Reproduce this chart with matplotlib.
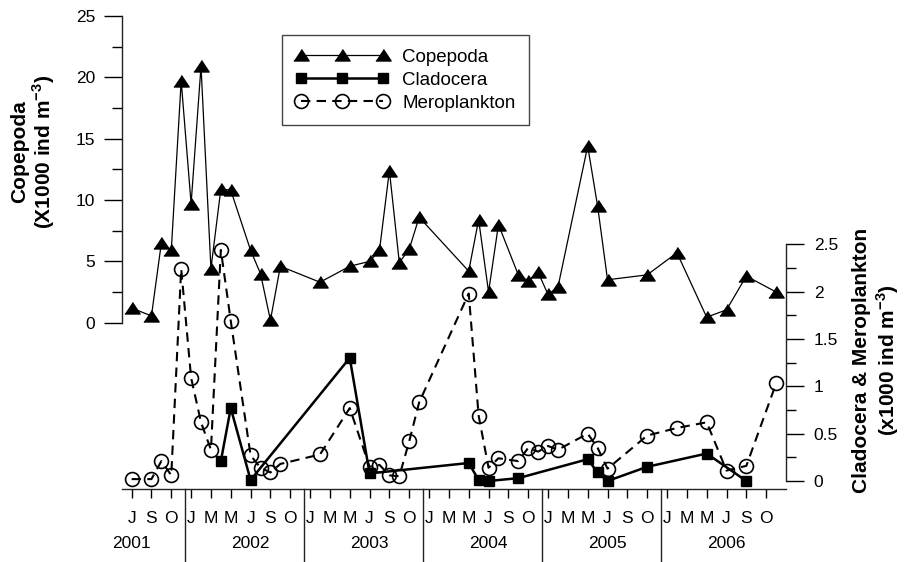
import matplotlib
matplotlib.use("Agg")
import matplotlib.pyplot as plt
import matplotlib.transforms as mtransforms
from matplotlib.ticker import FuncFormatter
import numpy as np

plt.rcParams['font.family'] = ['Liberation Sans', 'DejaVu Sans']
plt.rcParams['mathtext.fontset'] = 'custom'
plt.rcParams['mathtext.rm'] = 'Liberation Sans'
plt.rcParams['mathtext.bf'] = 'Liberation Sans:bold'

# sampling dates (year-month) and abundances (x1000 ind m-3)
cope_dates = ['2001-07', '2001-09', '2001-10', '2001-11', '2001-12', '2002-01', '2002-02',
              '2002-03', '2002-04', '2002-05', '2002-07', '2002-08', '2002-09', '2002-10',
              '2003-02', '2003-05', '2003-07', '2003-08', '2003-09', '2003-10', '2003-11',
              '2003-12', '2004-05', '2004-06', '2004-07', '2004-08', '2004-10', '2004-11',
              '2004-12', '2005-01', '2005-02', '2005-05', '2005-06', '2005-07', '2005-11',
              '2006-02', '2006-05', '2006-07', '2006-09', '2006-12']
cope_vals = [1.2, 0.55, 6.5, 5.9, 19.7, 9.7, 20.9,
             4.4, 10.9, 10.8, 5.9, 4.0, 0.2, 4.6,
             3.3, 4.6, 5.0, 5.9, 12.4, 4.9, 6.0,
             8.6, 4.2, 8.4, 2.5, 8.0, 3.9, 3.4,
             4.1, 2.3, 2.9, 14.4, 9.5, 3.5, 3.9,
             5.7, 0.45, 1.05, 3.8, 2.5]

clad_dates = ['2002-04', '2002-05', '2002-07', '2003-05', '2003-07', '2004-05', '2004-06',
              '2004-07', '2004-10', '2005-05', '2005-06', '2005-07', '2005-11', '2006-05',
              '2006-09']
clad_vals = [0.21, 0.77, 0.01, 1.30, 0.08, 0.19, 0.01,
             0.0, 0.03, 0.23, 0.09, 0.0, 0.15, 0.29,
             0.0]

mero_dates = cope_dates
mero_vals = [0.02, 0.02, 0.21, 0.06, 2.24, 1.09, 0.62,
             0.33, 2.44, 1.69, 0.27, 0.14, 0.09, 0.18,
             0.28, 0.77, 0.15, 0.17, 0.06, 0.05, 0.42,
             0.83, 1.98, 0.69, 0.14, 0.24, 0.21, 0.35,
             0.31, 0.37, 0.33, 0.50, 0.35, 0.13, 0.48,
             0.56, 0.62, 0.11, 0.16, 1.03]

month_labels = ['J', 'S', 'O'] + ['J', 'M', 'M', 'J', 'S', 'O'] * 5
years = [2001, 2002, 2003, 2004, 2005, 2006]


def month_index(d):
    y, m = d.split('-')
    return (int(y) - 2001) * 12 + int(m) - 1


cope_t = [month_index(d) for d in cope_dates]
clad_t = [month_index(d) for d in clad_dates]
mero_t = [month_index(d) for d in mero_dates]

W, H = 910, 562
fig = plt.figure(figsize=(W / 100, H / 100), dpi=100)
ax = fig.add_axes([121.7 / W, 72.7 / H, 664.3 / W, 473.3 / H])
ax2 = ax.twinx()

ax.set_xlim(5, 72)
ax.set_ylim(-13.58, 25)
ax2.set_ylim(-0.0877, 4.911)

tri = [(-1, -0.72), (1, -0.72), (0, 0.78)]
l1, = ax.plot(cope_t, cope_vals, color='black', lw=0.9, marker=tri, ms=11,
              label='Copepoda', clip_on=False, zorder=3)
l2, = ax2.plot(clad_t, clad_vals, color='black', lw=1.8, marker='s', ms=7.5,
               label='Cladocera', clip_on=False, zorder=3)
l3, = ax2.plot(mero_t, mero_vals, color='black', lw=1.5, ls=(0, (4.5, 3)), marker='o',
               ms=10, mfc='none', mew=1.2, label='Meroplankton', clip_on=False, zorder=3)

# spines
for s in ['top', 'right']:
    ax.spines[s].set_visible(False)
for s in ['top', 'left', 'bottom']:
    ax2.spines[s].set_visible(False)
ax.spines['left'].set_bounds(0, 25)
ax2.spines['right'].set_bounds(0, 2.5)
for sp in [ax.spines['left'], ax.spines['bottom'], ax2.spines['right']]:
    sp.set_linewidth(1.0)
    sp.set_color('#222222')

# left axis
ax.set_yticks(np.arange(0, 26, 5))
ax.set_yticks(np.arange(2.5, 25, 5), minor=True)
ax.tick_params(axis='y', which='major', length=13, width=1, pad=6, labelsize=12.5)
ax.tick_params(axis='y', which='minor', length=7, width=1)

# right axis
ax2.set_yticks(np.arange(0, 2.6, 0.5))
ax2.set_yticks(np.arange(0.25, 2.5, 0.5), minor=True)
ax2.yaxis.set_major_formatter(FuncFormatter(lambda v, p: '%g' % v))
ax2.tick_params(axis='y', which='major', length=13, width=1, pad=7, labelsize=12.5)
ax2.tick_params(axis='y', which='minor', length=7, width=1)

# x axis
ax.set_xticks(np.arange(6, 71, 2))
ax.set_xticklabels(month_labels)
ax.tick_params(axis='x', length=6.5, width=1, pad=9, labelsize=12.5)

trans_yr = mtransforms.blended_transform_factory(ax.transData, fig.transFigure)
trans_sep = mtransforms.blended_transform_factory(ax.transData, ax.transAxes)
for i, yr in enumerate(years):
    ax.text(i * 12 + 6, 18 / H, str(yr), transform=trans_yr, ha='center', va='center',
            fontsize=12.5)
    if i > 0:
        xs = i * 12 - 0.65
        ax.plot([xs, xs], [0, -0.17], transform=trans_sep, color='#222222', lw=1.0,
                clip_on=False)

fig.text(33.5 / W, 1 - 152 / H, 'Copepoda\n(X1000 ind m$^{\\mathbf{-3}}$)', rotation=90,
         ha='center', va='center', fontsize=15, fontweight='bold', linespacing=1.05)
fig.text(876.5 / W, 1 - 360 / H,
         'Cladocera & Meroplankton\n(x1000 ind m$^{\\mathbf{-3}}$)', rotation=90,
         ha='center', va='center', fontsize=15, fontweight='bold', linespacing=1.2)

leg = fig.legend([l1, l2, l3], ['Copepoda', 'Cladocera', 'Meroplankton'],
                 loc='upper left', bbox_to_anchor=(281.7 / W, 1 - 35 / H),
                 bbox_transform=fig.transFigure, borderaxespad=0, numpoints=3,
                 handlelength=5.0, handletextpad=0.7, labelspacing=0.32, borderpad=0.72,
                 fontsize=13.5, frameon=True, fancybox=False, edgecolor='#444444',
                 framealpha=1)
leg.get_frame().set_linewidth(1.0)

fig.savefig('out.png', dpi=100)
